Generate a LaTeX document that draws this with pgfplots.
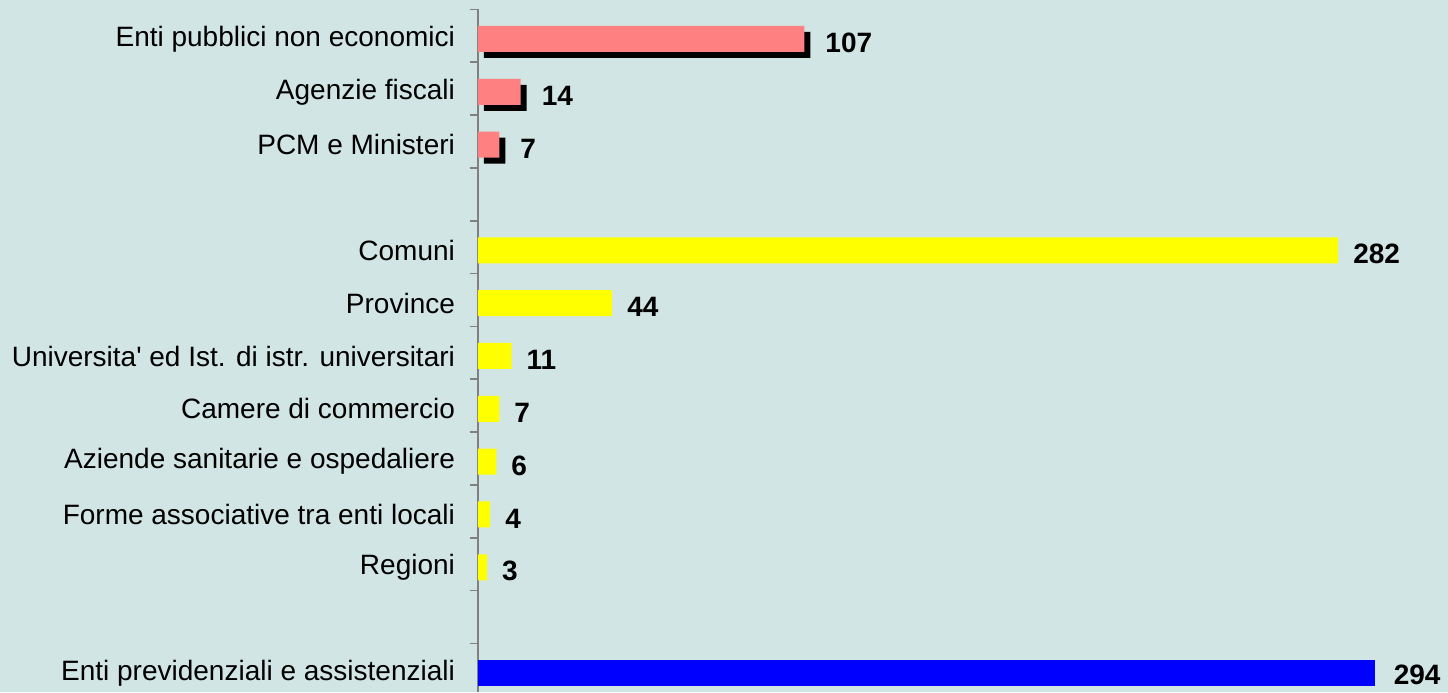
\documentclass[border=0pt]{standalone}
\usepackage{fontspec}
\setmainfont{Liberation Sans}[Ligatures=TeXOff]
\usepackage{pgfplots}
\pgfplotsset{compat=1.18}
\definecolor{bg}{RGB}{209,229,228}
\definecolor{pinkbar}{RGB}{255,128,128}
\definecolor{ybar}{RGB}{255,255,0}
\definecolor{bbar}{RGB}{0,0,255}
\definecolor{axgray}{RGB}{128,128,128}
\begin{document}
\begin{tikzpicture}
\fill[bg] (-239pt,0) rectangle (485pt,346pt);
\begin{axis}[
  at={(0,0)}, anchor=south west,
  scale only axis, width=485pt, height=341.3pt,
  xmin=0, xmax=318,
  ymin=-0.56, ymax=12.36, y dir=reverse,
  hide x axis,
  axis y line*=left,
  y axis line style={axgray, line width=0.8pt},
  ytick={0,1,2,4,5,6,7,8,9,10,12},
  yticklabels={Enti pubblici non economici, Agenzie fiscali, PCM e Ministeri, Comuni, Province, Universita' ed Ist. di istr. universitari, Camere di commercio, Aziende sanitarie e ospedaliere, Forme associative tra enti locali, Regioni, Enti previdenziali e assistenziali},
  major tick length=0pt,
  minor ytick={-0.56,0.44,1.44,2.44,3.44,4.44,5.44,6.44,7.44,8.44,9.44,10.44,11.44},
  minor tick length=4pt,
  tick align=outside,
  minor tick style={axgray, line width=0.8pt},
  yticklabel style={font=\fontsize{14}{16}\selectfont, xshift=-8pt},
  /pgf/number format/assume math mode=true,
  xbar, bar width=13pt, bar shift=0pt,
  clip=false,
]
% shadows of the pink bars
\addplot[fill=black, draw=none, xshift=3pt, yshift=-3pt, bar shift=0pt] coordinates {(107,0) (14,1) (7,2)};
\addplot[fill=pinkbar, draw=none, bar shift=0pt,
  nodes near coords, nodes near coords align=horizontal,
  every node near coord/.append style={font=\bfseries\fontsize{14}{16}\selectfont, text=black, xshift=7pt, yshift=-2pt}]
  coordinates {(107,0) (14,1) (7,2)};
\addplot[fill=ybar, draw=none, bar shift=0pt,
  nodes near coords, nodes near coords align=horizontal,
  every node near coord/.append style={font=\bfseries\fontsize{14}{16}\selectfont, text=black, xshift=4pt, yshift=-2pt}]
  coordinates {(282,4) (44,5) (11,6) (7,7) (6,8) (4,9) (3,10)};
\addplot[fill=bbar, draw=none, bar shift=0pt,
  nodes near coords, nodes near coords align=horizontal,
  every node near coord/.append style={font=\bfseries\fontsize{14}{16}\selectfont, text=black, xshift=6pt, yshift=-1pt}]
  coordinates {(294,12)};
\end{axis}
\pgfresetboundingbox
\path[use as bounding box] (-239pt,0) rectangle (485pt,346pt);
\end{tikzpicture}
\end{document}
